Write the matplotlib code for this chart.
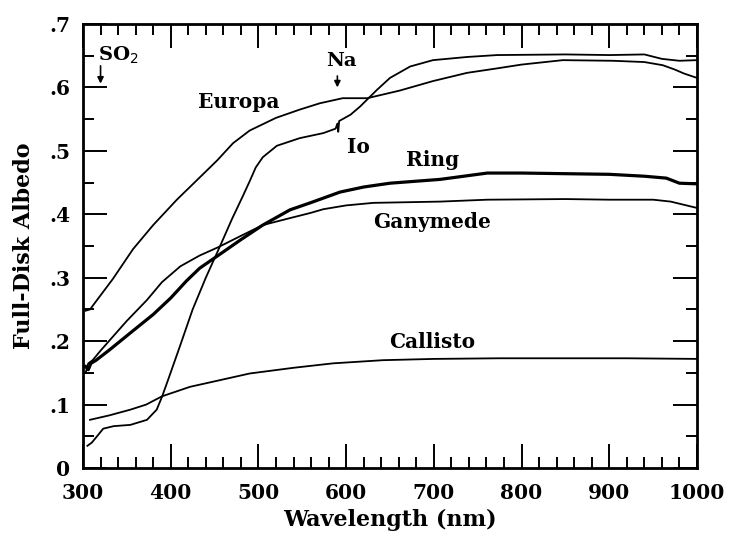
import numpy as np
import matplotlib.pyplot as plt
from matplotlib.ticker import MultipleLocator

# full-disk albedo spectra, read as (wavelength nm, albedo)
europa_nm = [303, 308, 315, 334, 357, 380, 407, 433, 453, 471, 490, 520, 547, 570, 596, 624, 661,
             699, 738, 772, 800, 847, 904, 940, 961, 975, 985, 1000]
europa_alb = [0.248, 0.25, 0.263, 0.298, 0.345, 0.383, 0.423, 0.458, 0.485, 0.512, 0.532, 0.552,
              0.565, 0.575, 0.583, 0.583, 0.595, 0.61, 0.623, 0.63, 0.636, 0.643, 0.642, 0.64,
              0.635, 0.628, 0.622, 0.615]

io_nm = [305, 310, 316, 323, 335, 354, 373, 384, 390, 397, 410, 425, 440, 456, 470, 482, 490, 497,
         505, 521, 547, 574, 588, 590, 591, 592, 605, 616, 635, 650, 673, 699, 738, 772, 850, 900,
         940, 960, 980, 1000]
io_alb = [0.035, 0.04, 0.05, 0.062, 0.066, 0.068, 0.076, 0.092, 0.112, 0.139, 0.19, 0.25, 0.30,
          0.349, 0.393, 0.428, 0.452, 0.474, 0.49, 0.508, 0.52, 0.528, 0.535, 0.543, 0.53, 0.547,
          0.557, 0.57, 0.596, 0.615, 0.633, 0.643, 0.648, 0.651, 0.652, 0.651, 0.652, 0.645,
          0.642, 0.643]

ring_nm = [303, 306, 309, 315, 330, 354, 380, 400, 418, 433, 454, 480, 505, 536, 559, 593, 620,
           650, 707, 761, 800, 850, 900, 940, 965, 980, 1000]
ring_alb = [0.16, 0.155, 0.165, 0.17, 0.186, 0.213, 0.242, 0.268, 0.295, 0.315, 0.335, 0.36,
            0.383, 0.407, 0.418, 0.435, 0.443, 0.449, 0.455, 0.465, 0.465, 0.464, 0.463, 0.46,
            0.457, 0.449, 0.448]

ganymede_nm = [303, 306, 311, 320, 334, 350, 373, 390, 411, 433, 454, 480, 505, 536, 559, 574, 600,
               631, 707, 761, 850, 900, 950, 970, 985, 1000]
ganymede_alb = [0.15, 0.165, 0.17, 0.185, 0.207, 0.232, 0.265, 0.293, 0.318, 0.335, 0.348, 0.366,
                0.383, 0.394, 0.402, 0.408, 0.414, 0.418, 0.42, 0.423, 0.424, 0.423, 0.423, 0.42,
                0.415, 0.41]

callisto_nm = [308, 330, 354, 372, 390, 422, 448, 490, 540, 585, 642, 700, 775, 850, 920, 1000]
callisto_alb = [0.076, 0.083, 0.092, 0.1, 0.113, 0.128, 0.136, 0.149, 0.158, 0.165, 0.17, 0.172,
                0.173, 0.173, 0.173, 0.172]

# name, x, y of each curve label
labels = [('Europa', 477, 0.577), ('Io', 614, 0.506), ('Ring', 699, 0.486),
          ('Ganymede', 698, 0.388), ('Callisto', 698, 0.199)]

so2_nm = 320
na_nm = 590

plt.rcParams['font.family'] = 'DejaVu Serif'

fig = plt.figure(figsize=(7.3, 5.39), dpi=100)
ax = fig.add_axes([0.1137, 0.1317, 0.8411, 0.8238])

ax.plot(europa_nm, europa_alb, color='black', lw=1.3)
ax.plot(io_nm, io_alb, color='black', lw=1.3)
ax.plot(ring_nm, ring_alb, color='black', lw=2.3)
ax.plot(ganymede_nm, ganymede_alb, color='black', lw=1.3)
ax.plot(callisto_nm, callisto_alb, color='black', lw=1.3)

for name, x, y in labels:
    ax.text(x, y, name, ha='center', va='center', fontsize=14.5, fontweight='bold')

# absorption markers
arrow = dict(arrowstyle='-|>', color='black', lw=1.2, mutation_scale=9, shrinkA=0, shrinkB=0)
ax.annotate('', xy=(so2_nm, 0.606), xytext=(so2_nm, 0.634), arrowprops=arrow)
ax.text(so2_nm - 3, 0.65, r'SO$_2$', ha='left', va='center', fontsize=14, fontweight='bold')
ax.annotate('', xy=(na_nm, 0.60), xytext=(na_nm, 0.618), arrowprops=arrow)
ax.text(na_nm + 5, 0.642, 'Na', ha='center', va='center', fontsize=14, fontweight='bold')

ax.set_xlim(300, 1000)
ax.set_ylim(0, 0.7)
ax.xaxis.set_major_locator(MultipleLocator(100))
ax.xaxis.set_minor_locator(MultipleLocator(20))
ax.yaxis.set_minor_locator(MultipleLocator(0.05))
ax.set_yticks(np.arange(0, 0.71, 0.1))
ax.set_yticklabels(['0', '.1', '.2', '.3', '.4', '.5', '.6', '.7'])

ax.tick_params(which='both', direction='in', top=True, right=True, width=1.4,
               labelsize=14.5)
ax.tick_params(which='major', length=17)
ax.tick_params(which='minor', length=8)
ax.tick_params(axis='x', pad=11)
ax.tick_params(axis='y', pad=9)
for lab in ax.get_xticklabels() + ax.get_yticklabels():
    lab.set_fontweight('bold')
for sp in ax.spines.values():
    sp.set_linewidth(2)

ax.set_xlabel('Wavelength (nm)', fontsize=16, fontweight='bold', labelpad=4)
ax.set_ylabel('Full-Disk Albedo', fontsize=16, fontweight='bold', labelpad=10)

fig.savefig('out.png', dpi=100)
